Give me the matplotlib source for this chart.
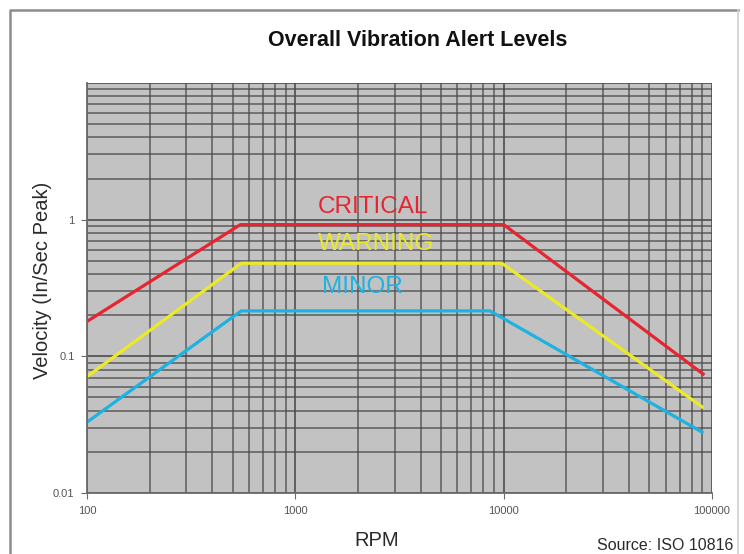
import matplotlib
matplotlib.use("Agg")
import matplotlib.pyplot as plt
from matplotlib.lines import Line2D
from matplotlib.ticker import LogLocator, FixedLocator, FixedFormatter, NullFormatter

plt.rcParams["font.family"] = ["Liberation Sans", "DejaVu Sans"]

# Alert level curves (RPM vs velocity, in/sec peak)
rpm_critical = [100, 545, 10000, 92000]
vel_critical = [0.18, 0.92, 0.92, 0.073]
rpm_warning = [100, 550, 9800, 91000]
vel_warning = [0.071, 0.48, 0.48, 0.042]
rpm_minor = [100, 550, 8600, 91000]
vel_minor = [0.033, 0.215, 0.215, 0.0275]

x_ticks = [100, 1000, 10000, 100000]
x_tick_labels = ["100", "1000", "10000", "100000"]
y_ticks = [0.01, 0.1, 1]
y_tick_labels = ["0.01", "0.1", "1"]

RED = "#e62530"
YELLOW = "#ece928"
BLUE = "#1cb2e2"
GRID = "#4a4a4a"

fig = plt.figure(figsize=(7.44, 5.54), dpi=100)
fig.patch.set_facecolor("white")

# outer frame of the original graphic (top and left strong, right faint)
fx0, fx1, fy1 = 10 / 744, 738 / 744, 1 - 10 / 554
fig.add_artist(Line2D([fx0, fx0, fx1], [0, fy1, fy1], transform=fig.transFigure,
                      color="#8c8c8c", lw=1.8))
fig.add_artist(Line2D([fx1, fx1], [fy1, 0], transform=fig.transFigure,
                      color="#d0d0d0", lw=1.2))

ax = fig.add_axes([87 / 744, 1 - 493 / 554, 625 / 744, 410 / 554])
ax.set_facecolor("#c2c2c2")
ax.set_xscale("log")
ax.set_yscale("log")
ax.set_xlim(100, 100000)
ax.set_ylim(0.01, 10)

ax.xaxis.set_major_locator(FixedLocator(x_ticks))
ax.xaxis.set_major_formatter(FixedFormatter(x_tick_labels))
ax.yaxis.set_major_locator(FixedLocator(y_ticks))
ax.yaxis.set_major_formatter(FixedFormatter(y_tick_labels))
ax.xaxis.set_minor_locator(LogLocator(base=10, subs=range(2, 10)))
ax.yaxis.set_minor_locator(LogLocator(base=10, subs=range(2, 10)))
ax.xaxis.set_minor_formatter(NullFormatter())
ax.yaxis.set_minor_formatter(NullFormatter())

ax.grid(which="major", color=GRID, lw=1.3, alpha=0.9)
ax.grid(which="minor", color=GRID, lw=1.1, alpha=0.85)
ax.set_axisbelow(True)
# horizontal line at the 10 level
ax.axhline(10, color=GRID, lw=1.3, alpha=0.9)

for s in ("top", "right"):
    ax.spines[s].set_visible(False)
for s in ("left", "bottom"):
    ax.spines[s].set_color("#6a6a6a")
    ax.spines[s].set_linewidth(1.3)

ax.tick_params(which="major", length=4, color="#6a6a6a", labelsize=8,
               labelcolor="#555555", pad=5)
ax.tick_params(which="minor", length=0)

ax.plot(rpm_critical, vel_critical, color=RED, lw=2.3, solid_capstyle="butt")
ax.plot(rpm_warning, vel_warning, color=YELLOW, lw=2.3, solid_capstyle="butt")
ax.plot(rpm_minor, vel_minor, color=BLUE, lw=2.3, solid_capstyle="butt")

fig.text(373 / 744, 1 - 207 / 554, "CRITICAL", color=RED, fontsize=17.5,
         ha="center", va="center")
fig.text(376 / 744, 1 - 244 / 554, "WARNING", color=YELLOW, fontsize=17.5,
         ha="center", va="center")
fig.text(362 / 744, 1 - 287 / 554, "MINOR", color=BLUE, fontsize=17.5,
         ha="center", va="center")

fig.text(418 / 744, 1 - 41 / 554, "Overall Vibration Alert Levels",
         fontsize=15.5, fontweight="bold", ha="center", va="center",
         color="#111111")
fig.text(43 / 744, 1 - 280 / 554, "Velocity (In/Sec Peak)", fontsize=14.5,
         rotation=90, ha="center", va="center", color="#2a2a2a")
fig.text(377 / 744, 1 - 540 / 554, "RPM", fontsize=14.5, ha="center",
         va="center", color="#2a2a2a")
fig.text(665 / 744, 1 - 546 / 554, "Source: ISO 10816", fontsize=11.5,
         ha="center", va="center", color="#2a2a2a")

fig.savefig("out.png", dpi=100)
